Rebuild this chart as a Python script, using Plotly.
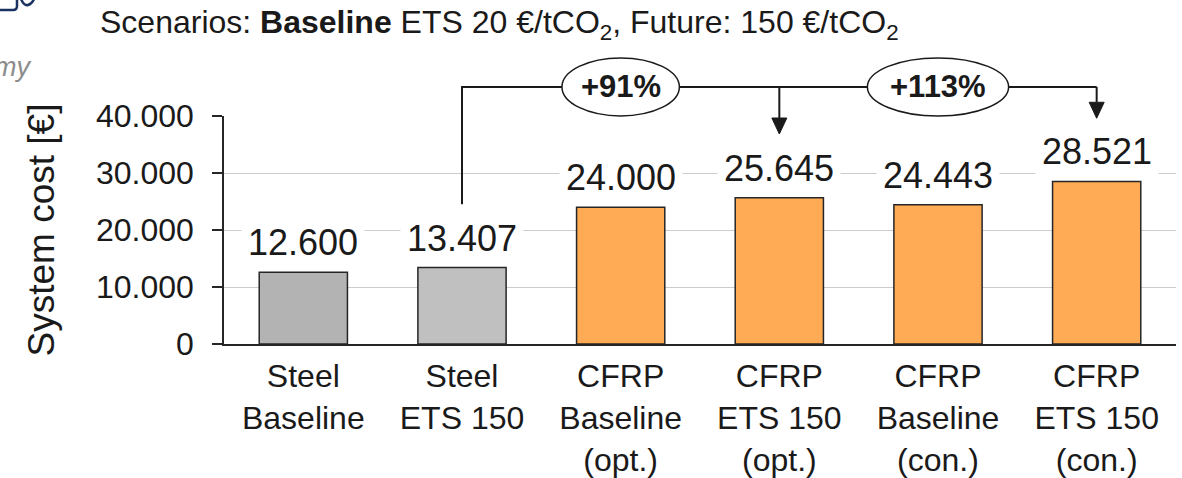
import plotly.graph_objects as go

# ---- data ---------------------------------------------------------------
categories = [
    "Steel<br>Baseline",
    "Steel<br>ETS 150",
    "CFRP<br>Baseline<br>(opt.)",
    "CFRP<br>ETS 150<br>(opt.)",
    "CFRP<br>Baseline<br>(con.)",
    "CFRP<br>ETS 150<br>(con.)",
]
system_cost = [12600, 13407, 24000, 25645, 24443, 28521]
bar_colors = ["#b3b3b3", "#c0c0c0", "#ffaa55", "#ffaa55", "#ffaa55", "#ffaa55"]
y_ticks = [0, 10000, 20000, 30000, 40000]

# comparison bracket from Steel ETS 150 to the two CFRP ETS 150 bars
bracket_source = 1
bracket_targets = [3, 5]
bracket_labels = ["+91%", "+113%"]
bracket_label_at = [2, 4]
bracket_label_halfwidth = [0.37, 0.445]   # in category units
bracket_start = 24500      # bottom of the rising leg (value units)
bracket_level = 45100      # height of the horizontal run (value units)
arrow_tips = [36840, 39600]

# ---- geometry / style ----------------------------------------------------
W, H = 1182, 478
M_L, M_R, M_T, M_B = 224, 6, 116, 134
PLOT_W = W - M_L - M_R
PLOT_H = H - M_T - M_B
Y_MAX = 40000
CAT_PX = PLOT_W / len(categories)

FONT = "Liberation Sans, Arial, Helvetica, sans-serif"
INK = "#1a1a1a"

HEAD_W = 15      # arrow head width, px
HEAD_L = 16      # arrow head length, px
ELL_HALF_H = 29  # ellipse half height, px


def fmt(v):
    return f"{v:,}".replace(",", ".")


def py(v):
    """value units -> paper fraction"""
    return v / Y_MAX


def pxx(p):
    return (p - M_L) / PLOT_W


def pxy(p):
    return (H - M_B - p) / PLOT_H


fig = go.Figure(
    go.Bar(
        x=categories,
        y=system_cost,
        marker=dict(color=bar_colors, line=dict(color="#262626", width=1.5)),
        hoverinfo="skip",
    )
)

annotations = []
# value labels on white boxes above the bars
for c, v in zip(categories, system_cost):
    annotations.append(dict(
        x=c, y=v, xref="x", yref="y", text=fmt(v), showarrow=False,
        yanchor="bottom", yshift=2, bgcolor="white", borderpad=6,
        font=dict(family=FONT, size=36, color=INK),
    ))

shapes = []
# bracket: rising leg at the source bar, then horizontal run to the last target
shapes.append(dict(
    type="path", xref="x", yref="paper", layer="above",
    path=(f"M {bracket_source},{py(bracket_start)} "
          f"L {bracket_source},{py(bracket_level)} "
          f"L {bracket_targets[-1]},{py(bracket_level)}"),
    line=dict(color=INK, width=2),
))
# arrows down to each target
hw = HEAD_W / 2 / CAT_PX
hl = HEAD_L / PLOT_H
for t, tip in zip(bracket_targets, arrow_tips):
    base = py(tip) + hl
    shapes.append(dict(
        type="path", xref="x", yref="paper", layer="above",
        path=f"M {t},{py(bracket_level)} L {t},{base}",
        line=dict(color=INK, width=2),
    ))
    shapes.append(dict(
        type="path", xref="x", yref="paper", layer="above",
        path=f"M {t - hw},{base} L {t + hw},{base} L {t},{py(tip)} Z",
        fillcolor=INK, line=dict(color=INK, width=1),
    ))
# ellipses with percentage increase
eh = ELL_HALF_H / PLOT_H
for pos, half, lab in zip(bracket_label_at, bracket_label_halfwidth, bracket_labels):
    shapes.append(dict(
        type="circle", xref="x", yref="paper", layer="above",
        x0=pos - half, x1=pos + half,
        y0=py(bracket_level) - eh, y1=py(bracket_level) + eh,
        fillcolor="white", line=dict(color=INK, width=1.5),
    ))
    annotations.append(dict(
        x=categories[pos], y=py(bracket_level), xref="x", yref="paper",
        text=f"<b>{lab}</b>", showarrow=False, yanchor="middle",
        font=dict(family=FONT, size=31, color=INK),
    ))

# fragment of slide branding at the top left
annotations.append(dict(
    x=pxx(33), y=pxy(67), xref="paper", yref="paper", text="my",
    showarrow=False, xanchor="right", yanchor="middle",
    font=dict(family=FONT, size=27, color="#8c8c8c", style="italic"),
))
shapes.append(dict(
    type="path", xref="paper", yref="paper", layer="above",
    path=(f"M {pxx(-2)},{pxy(10)} L {pxx(13)},{pxy(10)} "
          f"Q {pxx(17)},{pxy(10)} {pxx(17)},{pxy(6)} L {pxx(17)},{pxy(-2)}"),
    line=dict(color="#1b3360", width=2.5),
))
shapes.append(dict(
    type="path", xref="paper", yref="paper", layer="above",
    path=(f"M {pxx(21)},{pxy(-1)} Q {pxx(24)},{pxy(6)} {pxx(28)},{pxy(5)} "
          f"Q {pxx(32)},{pxy(4)} {pxx(34)},{pxy(-1)}"),
    line=dict(color="#1b3360", width=2.5),
))

fig.update_layout(
    width=W, height=H,
    margin=dict(l=M_L, r=M_R, t=M_T, b=M_B, autoexpand=False),
    paper_bgcolor="white", plot_bgcolor="white",
    separators=",.",
    bargap=0.444,
    showlegend=False,
    font=dict(family=FONT, color=INK),
    title=dict(
        text="Scenarios: <b>Baseline</b> ETS 20 €/tCO<sub>2</sub>, Future: 150 €/tCO<sub>2</sub>",
        xref="container", yref="container", x=100 / W, xanchor="left",
        y=1 - 22 / H, yanchor="middle",
        font=dict(family=FONT, size=32, color=INK),
    ),
    shapes=shapes,
    annotations=annotations,
)

fig.update_xaxes(
    type="category", showline=True, linecolor="#262626", linewidth=2,
    ticks="", showgrid=False, automargin=False,
    tickfont=dict(family=FONT, size=32, color=INK),
    ticklabelstandoff=3,
)
fig.update_yaxes(
    range=[0, Y_MAX], tickvals=y_ticks, tickformat=",",
    showline=True, linecolor="#262626", linewidth=1.5,
    ticks="outside", ticklen=10, tickwidth=1.5, tickcolor="#262626",
    showgrid=True, gridcolor="#cccccc", gridwidth=1.3,
    zeroline=False, automargin=False,
    tickfont=dict(family=FONT, size=32, color=INK),
    ticklabelstandoff=12,
    title=dict(text="System cost [€]", standoff=30,
               font=dict(family=FONT, size=37, color=INK)),
)

fig.write_html("out.html")
